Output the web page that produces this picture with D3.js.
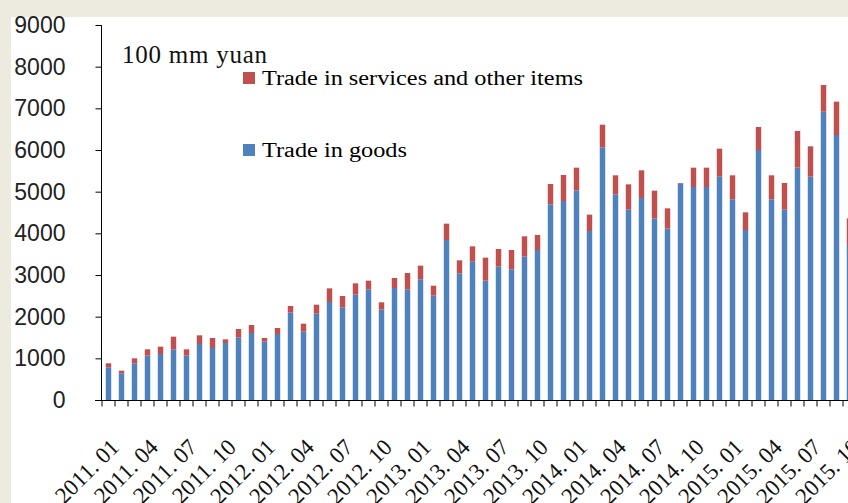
<!DOCTYPE html>
<html><head><meta charset="utf-8">
<script src="https://cdn.jsdelivr.net/npm/d3@7"></script>
<style>html,body{margin:0;padding:0;background:#edeae0;overflow:hidden}</style>
</head><body>
<svg id="c" width="848" height="503"></svg>
<script>
const months = ["2011. 01","2011. 02","2011. 03","2011. 04","2011. 05","2011. 06","2011. 07","2011. 08","2011. 09","2011. 10","2011. 11","2011. 12",
"2012. 01","2012. 02","2012. 03","2012. 04","2012. 05","2012. 06","2012. 07","2012. 08","2012. 09","2012. 10","2012. 11","2012. 12",
"2013. 01","2013. 02","2013. 03","2013. 04","2013. 05","2013. 06","2013. 07","2013. 08","2013. 09","2013. 10","2013. 11","2013. 12",
"2014. 01","2014. 02","2014. 03","2014. 04","2014. 05","2014. 06","2014. 07","2014. 08","2014. 09","2014. 10","2014. 11","2014. 12",
"2015. 01","2015. 02","2015. 03","2015. 04","2015. 05","2015. 06","2015. 07","2015. 08","2015. 09","2015. 10"];
const tradeInGoods = [785,640,880,1064,1104,1216,1064,1344,1248,1368,1496,1608,
1400,1584,2096,1640,2072,2352,2224,2528,2656,2168,2688,2656,
2896,2504,3840,3040,3320,2864,3200,3136,3440,3600,4696,4776,
5032,4056,6064,4936,4568,4848,4352,4112,5190,5112,5112,5360,
4816,4080,6000,4816,4568,5576,5360,6920,6360,3720];
const tradeInServices = [96,64,120,152,176,304,152,208,240,88,208,192,
88,144,160,192,216,328,272,272,208,176,240,392,
328,240,392,312,368,552,424,464,488,360,488,624,
544,392,544,456,608,664,672,488,18,464,464,672,
576,424,552,576,640,880,728,640,800,640];
const yTicks = [0,1000,2000,3000,4000,5000,6000,7000,8000,9000];
const seriesNames = ["Trade in services and other items","Trade in goods"];
const colors = {goods:"#4f81bd", services:"#c0504d"};

const svg = d3.select("#c");
svg.append("rect").attr("x",0).attr("y",0).attr("width",848).attr("height",503).attr("fill","#edeae0");
svg.append("rect").attr("x",11).attr("y",17).attr("width",837).attr("height",486).attr("fill","#ffffff");

const x0 = 102, step = 13;
const x = d3.scaleBand().domain(months).range([x0, x0 + step*months.length]).paddingInner(0.58).paddingOuter(0.29);
const y = d3.scaleLinear().domain([0,9000]).range([400,25]);

const data = months.map((m,i)=>({m, g:tradeInGoods[i], s:tradeInServices[i]}));
const stack = d3.stack().keys(["g","s"])(data);

const bars = svg.append("g");
bars.selectAll("rect.g").data(stack[0]).join("rect")
  .attr("x",d=>x(d.data.m)).attr("width",x.bandwidth())
  .attr("y",d=>y(d[1])).attr("height",d=>y(d[0])-y(d[1]))
  .attr("fill",colors.goods);
bars.selectAll("rect.s").data(stack[1]).join("rect")
  .attr("x",d=>x(d.data.m)).attr("width",x.bandwidth())
  .attr("y",d=>y(d[1])).attr("height",d=>y(d[0])-y(d[1]))
  .attr("fill",colors.services);

// Y axis
const yAxis = svg.append("g").attr("transform","translate(101.5,0)")
  .call(d3.axisLeft(y).tickValues(yTicks).tickSize(6).tickPadding(30).tickFormat(d3.format("d")));
yAxis.select(".domain").attr("stroke","#000").attr("d","M0,400V25");
yAxis.selectAll(".tick line").attr("stroke","#000");
yAxis.selectAll(".tick text").attr("font-family","Liberation Sans, Arial, sans-serif").attr("font-size","23px").attr("fill","#222");

// X axis
const xAxis = svg.append("g").attr("transform","translate(0,400.5)");
xAxis.append("line").attr("x1",95).attr("x2",848).attr("y1",0).attr("y2",0).attr("stroke","#000");
xAxis.selectAll("line.t").data(months).join("line")
  .attr("x1",d=>x(d)-x.step()*x.paddingOuter()).attr("x2",d=>x(d)-x.step()*x.paddingOuter())
  .attr("y1",0).attr("y2",6).attr("stroke","#000");
xAxis.selectAll("text").data(months.filter((d,i)=>i%3===0)).join("text")
  .attr("text-anchor","end")
  .attr("transform",d=>`translate(${x(d)+x.bandwidth()/2+12},48) rotate(-45)`)
  .attr("font-family","Liberation Serif, Times New Roman, serif").attr("font-size","23px").attr("fill","#111")
  .text(d=>d);

// unit + legend
svg.append("text").attr("x",122).attr("y",63).attr("font-family","Liberation Serif, serif")
  .attr("font-size","25px").attr("fill","#111").attr("textLength",145).attr("lengthAdjust","spacing").text("100 mm yuan");
const leg = [{n:seriesNames[0], c:colors.services, y:72},{n:seriesNames[1], c:colors.goods, y:144}];
leg.forEach((l,i)=>{
  svg.append("rect").attr("x",243).attr("y",l.y).attr("width",12).attr("height",12).attr("fill",l.c);
  svg.append("text").attr("x",262).attr("y",l.y+13).attr("font-family","Liberation Serif, serif")
    .attr("font-size","20px").attr("fill","#000").attr("textLength", i===0?321:145).attr("lengthAdjust","spacingAndGlyphs").text(l.n);
});
</script>
</body></html>
